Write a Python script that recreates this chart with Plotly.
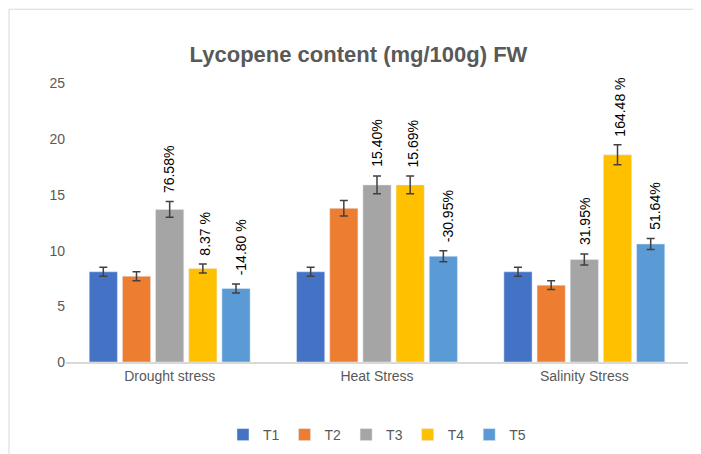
import plotly.graph_objects as go

categorias = ['Drought stress', 'Heat Stress', 'Salinity Stress']
series = ['T1', 'T2', 'T3', 'T4', 'T5']
cores = ['#4472C4', '#ED7D31', '#A5A5A5', '#FFC000', '#5B9BD5']
valores = {
    'T1': [8.1, 8.1, 8.1],
    'T2': [7.7, 13.8, 6.9],
    'T3': [13.7, 15.9, 9.2],
    'T4': [8.4, 15.9, 18.6],
    'T5': [6.6, 9.5, 10.6],
}
erros = {
    'T1': [0.4, 0.4, 0.4],
    'T2': [0.4, 0.7, 0.4],
    'T3': [0.7, 0.8, 0.5],
    'T4': [0.4, 0.8, 0.9],
    'T5': [0.4, 0.5, 0.5],
}
rotulos = {
    'T3': ['76.58%', '15.40%', '31.95%'],
    'T4': ['8.37 %', '15.69%', '164.48 %'],
    'T5': ['-14.80 %', '-30.95%', '51.64%'],
}

L, R, T, B = 58, 21, 70, 99
W, H = 701, 454
pw, ph = W - L - R, H - T - B

fig = go.Figure()
for s, c in zip(series, cores):
    fig.add_trace(go.Bar(
        x=categorias, y=valores[s], name=s, marker_color=c,
        error_y=dict(type='data', array=erros[s], color='#404040', thickness=1.5, width=4),
    ))

# rótulos verticais acima das barras
n = len(series)
anots = []
for i, s in enumerate(series):
    if s not in rotulos:
        continue
    for j, cat in enumerate(categorias):
        offset = (i - (n - 1) / 2) * 0.172
        anots.append(dict(
            x=j + offset, y=valores[s][j] + erros[s][j] + 0.6, xref='x', yref='y',
            text=rotulos[s][j], textangle=-90, showarrow=False, yanchor='bottom',
            font=dict(size=14, color='black', family='Liberation Sans'),
        ))

fig.update_layout(
    width=W, height=H,
    title=dict(text='<b>Lycopene content (mg/100g) FW</b>', x=0.5, y=0.915, xanchor='center',
               font=dict(size=22, color='#595959', family='Liberation Sans')),
    paper_bgcolor='white', plot_bgcolor='white',
    barmode='group', bargap=0.2, bargroupgap=0.15,
    margin=dict(l=L, r=R, t=T, b=B),
    font=dict(family='Liberation Sans', size=14, color='#595959'),
    xaxis=dict(showline=True, linecolor='#D9D9D9', linewidth=1.5, ticks=''),
    yaxis=dict(range=[0, 25.5], dtick=5, showgrid=False, zeroline=False, ticks=''),
    legend=dict(orientation='h', x=0.5, xanchor='center', y=-(421 - 355 - 10) / ph, font=dict(size=14)),
    annotations=anots,
    shapes=[dict(type='rect', xref='paper', yref='paper',
                 x0=-(L - 1) / pw, y0=-(B - 1) / ph, x1=1 + (R - 1) / pw, y1=1 + (T - 1) / ph,
                 line=dict(color='#D9D9D9', width=1))],
)
fig.update_xaxes(type='category')

fig.write_html('out.html')
